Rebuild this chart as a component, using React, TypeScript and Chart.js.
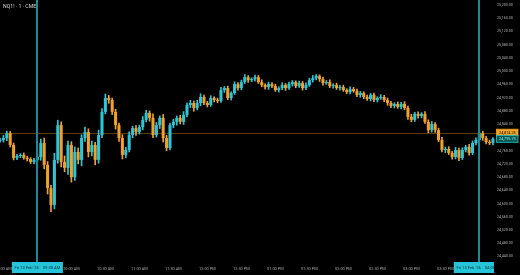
import React, { useEffect, useRef } from "react";
import { Chart, registerables } from "chart.js";

Chart.register(...registerables);

const chartTitle = "NQ1! · 1 · CME";
// candle times, minutes relative to the 09:30 AM open
const firstCandleMinute = -33;
const candleStepMinutes = 3;
const firstOpen = 24790;
const closes = [
  24792, 24798, 24813, 24777, 24738, 24744, 24747, 24738, 24735, 24726,
  24732, 24741, 24783, 24717, 24647, 24596, 24732, 24837, 24726, 24708,
  24777, 24680, 24756, 24732, 24798, 24816, 24756, 24777, 24732, 24807,
  24877, 24919, 24913, 24877, 24837, 24798, 24747, 24762, 24807, 24828,
  24816, 24831, 24853, 24874, 24859, 24807, 24837, 24859, 24798, 24768,
  24837, 24847, 24859, 24847, 24868, 24898, 24904, 24889, 24904, 24922,
  24904, 24898, 24919, 24913, 24910, 24943, 24949, 24919, 24934, 24961,
  24949, 24967, 24982, 24973, 24976, 24982, 24967, 24958, 24952, 24961,
  24955, 24943, 24949, 24958, 24949, 24961, 24967, 24955, 24964, 24949,
  24958, 24973, 24979, 24985, 24976, 24964, 24967, 24955, 24958, 24949,
  24952, 24943, 24937, 24946, 24940, 24928, 24934, 24922, 24916, 24928,
  24913, 24919, 24922, 24913, 24904, 24895, 24901, 24892, 24901, 24889,
  24862, 24853, 24871, 24865, 24871, 24847, 24822, 24840, 24822, 24792,
  24762, 24765, 24753, 24741, 24762, 24738, 24762, 24771, 24753, 24783,
  24792, 24813, 24798, 24786, 24783, 24795.75,
];
// wick extents (points above the body top / below the body bottom)
const upperWick = [
  6, 8, 6, 5, 6, 5, 4, 6, 5, 4, 5, 6,
  12, 15, 10, 8, 20, 15, 10, 18, 12, 10, 15, 12, 10, 15, 10, 12, 8, 15,
  10, 12, 8, 6, 8, 6, 10, 8, 10, 6, 8, 6, 10, 8, 6, 12, 8, 6, 10, 8, 6, 8, 6, 8, 10, 6, 8, 6, 8, 10,
  6, 5, 7, 4, 6, 8, 5, 6, 4, 7, 5, 6, 8, 5, 4, 6, 5, 7, 4, 6, 5, 6, 4, 7, 5, 6, 5, 4, 6, 5, 7, 6, 8, 5, 4, 6, 5, 7, 4, 6,
  5, 6, 4, 7, 5, 6, 5, 4, 6, 5, 6, 4, 7, 5, 6, 5, 4, 6, 5, 7, 6, 8, 5, 6, 4, 7, 6, 8, 5, 6, 8, 6, 7, 5, 8, 6, 7, 5, 8, 6, 7, 10, 6, 5, 6, 4,
];
const lowerWick = [
  5, 6, 8, 6, 6, 5, 5, 4, 6, 5, 6, 5,
  10, 12, 18, 20, 12, 10, 15, 12, 20, 15, 10, 12, 18, 10, 15, 12, 15, 10,
  8, 6, 10, 8, 12, 10, 12, 8, 6, 8, 10, 6, 8, 6, 10, 8, 6, 10, 12, 8, 6, 8, 10, 6, 8, 6, 8, 10, 6, 8,
  5, 6, 4, 6, 5, 4, 7, 5, 6, 4, 6, 5, 4, 7, 5, 6, 4, 5, 6, 7, 5, 4, 6, 5, 7, 4, 6, 5, 4, 6, 5, 4, 6, 5, 7, 6, 4, 5, 6, 4,
  6, 4, 5, 6, 4, 5, 7, 5, 4, 6, 5, 6, 4, 5, 7, 5, 6, 4, 6, 5, 8, 6, 5, 7, 6, 5, 8, 6, 7, 5, 6, 8, 5, 7, 6, 8, 5, 6, 7, 5, 6, 5, 7, 6, 5, 6,
];

const xTickMinutes = [-30, 0, 30, 60, 90, 120, 150, 180, 210, 240, 270, 300, 330, 360, 390];
const xTickLabels = [
  "09:00 AM", "09:30 AM", "10:00 AM", "10:30 AM", "11:00 AM", "11:30 AM", "12:00 PM",
  "12:30 PM", "01:00 PM", "01:30 PM", "02:00 PM", "02:30 PM", "03:00 PM", "03:30 PM", "04:00 PM",
];
const yTicks = [
  24440, 24480, 24520, 24560, 24600, 24640, 24680, 24720, 24760, 24800, 24840,
  24880, 24920, 24960, 25000, 25040, 25080, 25120, 25160, 25200,
];
const markerMinutes = [0, 390];
const markerLabels = ["Fri 13 Feb '26    09:30 AM", "Fri 13 Feb '26    04:00 PM"];
const levelPrice = 24814.25;
const lastPrice = 24795.75;

const UP = "#2cc6d6";
const DOWN = "#f0a02e";
const FONT = "Roboto, 'Liberation Sans', sans-serif";

const fmtPrice = (v: number) =>
  v.toLocaleString("en-US", { minimumFractionDigits: 2, maximumFractionDigits: 2 });

export default function App() {
  const ref = useRef<HTMLCanvasElement | null>(null);

  useEffect(() => {
    if (!ref.current) return;
    const opens = closes.map((c, i) => (i === 0 ? firstOpen : closes[i - 1]));
    const xs = closes.map((_, i) => firstCandleMinute + i * candleStepMinutes);
    const bodies = closes.map((c, i) => ({ x: xs[i], y: [opens[i], c] }));
    const wicks = closes.map((c, i) => ({
      x: xs[i],
      y: [Math.min(opens[i], c) - lowerWick[i], Math.max(opens[i], c) + upperWick[i]],
    }));
    const colors = closes.map((c, i) => (c >= opens[i] ? UP : DOWN));

    const overlay = {
      id: "overlay",
      beforeDatasetsDraw(chart: any) {
        const { ctx, chartArea, scales } = chart;
        const y = Math.round(scales.y.getPixelForValue(levelPrice)) + 0.5;
        ctx.save();
        ctx.strokeStyle = "#5a3b12";
        ctx.lineWidth = 1;
        ctx.beginPath();
        ctx.moveTo(chartArea.left, y);
        ctx.lineTo(chartArea.right, y);
        ctx.stroke();
        ctx.restore();
      },
      afterDatasetsDraw(chart: any) {
        const { ctx, chartArea, scales } = chart;
        ctx.save();
        ctx.strokeStyle = "#1f8797";
        ctx.lineWidth = 2;
        markerMinutes.forEach((m) => {
          const x = Math.round(scales.x.getPixelForValue(m));
          ctx.beginPath();
          ctx.moveTo(x, 0);
          ctx.lineTo(x, chartArea.bottom);
          ctx.stroke();
        });
        ctx.restore();
      },
      afterDraw(chart: any) {
        const { ctx, chartArea, scales, width } = chart;
        ctx.save();
        ctx.fillStyle = "#d6d6d6";
        ctx.font = `5.2px ${FONT}`;
        ctx.textBaseline = "middle";
        ctx.textAlign = "left";
        ctx.fillText(chartTitle, 3, 6.5);

        ctx.save();
        ctx.beginPath();
        ctx.rect(0, 0, chartArea.right - 2, chart.height);
        ctx.clip();
        markerMinutes.forEach((m, i) => {
          const x = scales.x.getPixelForValue(m);
          const w = 51;
          const top = chartArea.bottom;
          ctx.fillStyle = "#26c4d8";
          ctx.fillRect(x - w / 2, top, w, 11);
          ctx.fillStyle = "#0c3238";
          ctx.font = `4.1px ${FONT}`;
          ctx.textAlign = "center";
          ctx.textBaseline = "middle";
          ctx.fillText(markerLabels[i], x, top + 6);
        });
        ctx.restore();

        const boxes = [
          { v: levelPrice, bg: "#f2a228", fg: "#1a1205", border: "#f2a228" },
          { v: lastPrice, bg: "#0d5654", fg: "#7fece4", border: "#26c4c0" },
        ];
        boxes.forEach((b) => {
          const y = scales.y.getPixelForValue(b.v);
          const left = chartArea.right + 0.5;
          ctx.fillStyle = b.bg;
          ctx.fillRect(left, y - 3.5, width - left - 2, 7);
          ctx.strokeStyle = b.border;
          ctx.lineWidth = 0.8;
          ctx.strokeRect(left, y - 3.5, width - left - 2, 7);
          ctx.fillStyle = b.fg;
          ctx.font = `3.8px ${FONT}`;
          ctx.textAlign = "left";
          ctx.textBaseline = "middle";
          ctx.fillText(fmtPrice(b.v), left + 2.5, y + 0.3);
        });
        ctx.restore();
      },
    };

    const chart = new Chart(ref.current, {
      type: "bar",
      data: {
        datasets: [
          {
            data: wicks as any,
            backgroundColor: colors,
            borderWidth: 0,
            barThickness: 1,
            grouped: false,
            order: 2,
          },
          {
            data: bodies as any,
            backgroundColor: colors,
            borderWidth: 0,
            barPercentage: 0.9,
            categoryPercentage: 1,
            minBarLength: 1,
            grouped: false,
            order: 1,
          },
        ],
      },
      options: {
        animation: false,
        responsive: false,
        maintainAspectRatio: false,
        layout: { padding: 0 },
        plugins: { legend: { display: false }, tooltip: { enabled: false }, title: { display: false } },
        scales: {
          x: {
            type: "linear",
            min: -33,
            max: 404.7,
            offset: false,
            grid: { display: false, drawTicks: false },
            border: { display: false },
            afterBuildTicks: (s: any) => {
              s.ticks = xTickMinutes.map((v) => ({ value: v }));
            },
            afterFit: (s: any) => {
              s.height = 13;
              s.paddingLeft = 0;
              s.paddingRight = 0;
            },
            ticks: {
              autoSkip: false,
              maxRotation: 0,
              padding: 5,
              color: "#a8a8a8",
              font: { size: 3.9, family: FONT },
              callback: (v: any) => {
                const i = xTickMinutes.indexOf(Number(v));
                return i >= 0 ? xTickLabels[i] : "";
              },
            },
          },
          y: {
            position: "right",
            min: 24423.6,
            max: 25215.1,
            grid: { display: false, drawTicks: false },
            border: { display: false },
            afterBuildTicks: (s: any) => {
              s.ticks = yTicks.map((v) => ({ value: v }));
            },
            afterFit: (s: any) => {
              s.width = 24;
              s.paddingTop = 0;
              s.paddingBottom = 0;
            },
            ticks: {
              padding: 1,
              color: "#b0b0b0",
              font: { size: 3.6, family: FONT },
              callback: (v: any) => fmtPrice(Number(v)),
            },
          },
        },
      },
      plugins: [overlay],
    });
    return () => chart.destroy();
  }, []);

  return (
    <div style={{ position: "fixed", left: 0, top: 0, width: 520, height: 275, background: "#000" }}>
      <canvas ref={ref} width={520} height={275} style={{ display: "block", width: 520, height: 275 }} />
    </div>
  );
}
